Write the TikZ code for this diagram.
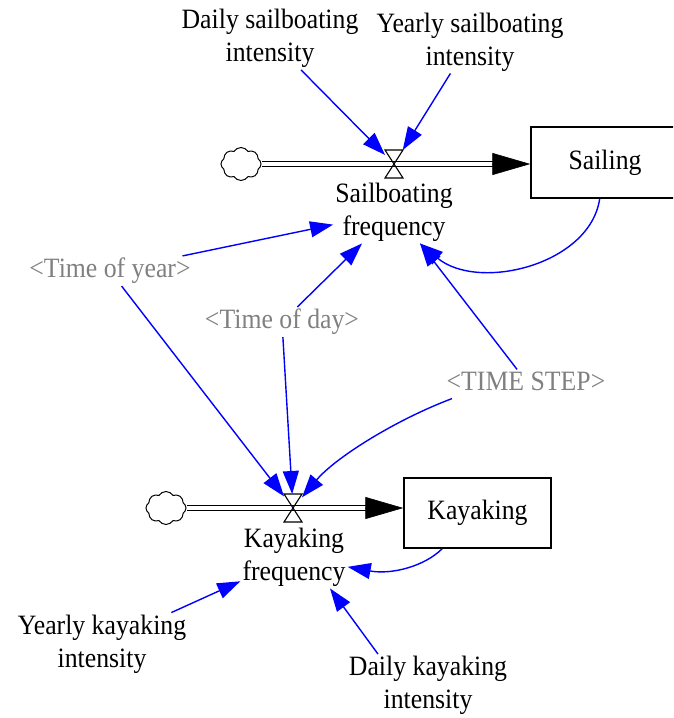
\documentclass[tikz,border=0pt]{standalone}
\usepackage{fontspec}
\setmainfont{Liberation Serif}[FakeStretch=0.92]
\usetikzlibrary{arrows.meta,shapes.symbols}
\definecolor{shadowgray}{RGB}{128,128,128}
\definecolor{linkblue}{RGB}{0,0,255}
\begin{document}
\begin{tikzpicture}[x=1pt,y=-1pt,
  every node/.style={font=\fontsize{28}{33}\selectfont},
  var/.style={align=center, inner sep=2pt},
  shadow/.style={var, text=shadowgray},
  stock/.style={draw, line width=1.4pt, inner sep=0pt},
  valve/.style={minimum width=18pt, minimum height=28pt, inner sep=0pt, outer sep=0pt},
  valveline/.style={line width=1.1pt, line join=miter},
  source/.style={cloud, cloud puffs=8, cloud puff arc=115, aspect=1.2, draw,
    line width=1pt, minimum width=40pt, minimum height=33pt, inner sep=0pt},
  pipe/.style={double distance=3.6pt, line width=1.6pt},
  pipehead/.style={-{Triangle[length=38pt,width=22pt]}, line width=0.6pt},
  link/.style={linkblue, line width=1.4pt, -{Triangle[length=23pt,width=16pt]}},
]
\clip (0,0) rectangle (673,718);
\useasboundingbox (0,0) rectangle (673,718);

% ---------- Sailing stock and its inflow ----------
\node[stock, minimum width=148pt, minimum height=71pt] (sbox) at (605,162.5) {Sailing};
\node[source] (sc) at (241,164) {};
\node[valve] (sv) at (394,164) {};
\coordinate (sin) at (sbox.west |- sv);
\draw[pipe] (sc.east |- sv) -- ([xshift=-36pt]sin);
\draw[pipehead] ([xshift=-38pt]sin) -- (sin);
\draw[valveline] (sv.north west) -- (sv.north east) -- (sv.south west) -- (sv.south east) -- cycle;
\node[var] (sf) at (394,212) {Sailboating\\frequency};

% ---------- Kayaking stock and its inflow ----------
\node[stock, minimum width=147pt, minimum height=70pt] (kbox) at (477.5,513) {Kayaking};
\node[source] (kc) at (166,508) {};
\node[valve] (kv) at (293,508) {};
\coordinate (kin) at (kbox.west |- kv);
\draw[pipe] (kc.east |- kv) -- ([xshift=-36pt]kin);
\draw[pipehead] ([xshift=-38pt]kin) -- (kin);
\draw[valveline] (kv.north west) -- (kv.north east) -- (kv.south west) -- (kv.south east) -- cycle;
\node[var] (kf) at (294,557) {Kayaking\\frequency};

% ---------- Auxiliary variables ----------
\node[var] (dsi) at (270,38.5) {Daily sailboating\\intensity};
\node[var] (ysi) at (470,42) {Yearly sailboating\\intensity};
\node[shadow] (tyear) at (110,271) {<Time of year>};
\node[shadow] (tday) at (282,322) {<Time of day>};
\node[shadow] (tstep) at (526,381) {<TIME STEP>};
\node[var] (yki) at (102,644) {Yearly kayaking\\intensity};
\node[var] (dki) at (428,685.5) {Daily kayaking\\intensity};

% ---------- Information links ----------
\draw[link] (dsi) -- (sv);
\draw[link] (ysi) -- (sv);
\draw[link] (tyear) -- (sf);
\draw[link] (tday) -- (sf);
\draw[link] (tstep) -- ([xshift=26pt]sf.south);
\draw[link] (sbox) .. controls (590,265) and (478,292) .. ([xshift=26pt]sf.south);

\draw[link] (tyear) -- (kv);
\draw[link] (tday) -- (kv);
\draw[link] ([shift={(-74,6)}]tstep.south) .. controls (395,420) and (335,458) .. (kv);
\draw[link] (kbox) .. controls (425,566) and (392,575) .. (kf);
\draw[link] (yki) -- (kf);
\draw[link] ([xshift=-50pt]dki.north) -- ([xshift=36pt]kf.south);
\end{tikzpicture}
\end{document}
